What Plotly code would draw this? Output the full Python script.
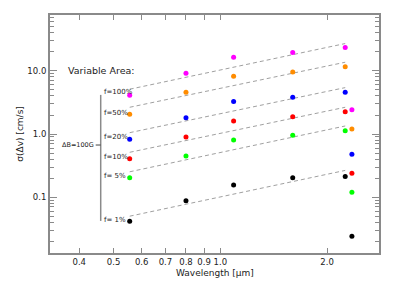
import plotly.graph_objects as go

# ---- data ----
wl_main = [0.555, 0.80, 1.09, 1.60, 2.25]
wl_extra = 2.35
fill_labels = ["f=100%", "f=50%", "f=20%", "f=10%", "f= 5%", "f= 1%"]
colors = ["#FF00FF", "#FF8C00", "#0000FF", "#FF0000", "#00FF00", "#000000"]

sig_100 = [4.11, 9.19, 16.5, 19.5, 23.4]
sig_50 = [2.05, 4.59, 8.24, 9.64, 11.6]
sig_20 = [0.824, 1.81, 3.26, 3.82, 4.59]
sig_10 = [0.406, 0.896, 1.61, 1.88, 2.26]
sig_5 = [0.203, 0.447, 0.803, 0.953, 1.13]
sig_1 = [0.0416, 0.0873, 0.155, 0.203, 0.213]
sig_extra = [2.43, 1.20, 0.476, 0.238, 0.120, 0.024]

line_wl = [0.555, 2.25]
line_100 = [5.12, 27.1]
line_50 = [2.65, 13.7]
line_20 = [1.05, 5.43]
line_10 = [0.513, 2.65]
line_5 = [0.252, 1.34]
line_1 = [0.0499, 0.265]

x_ticks = [0.4, 0.5, 0.6, 0.7, 0.8, 0.9, 1.0, 2.0]
x_ticktext = ["0.4", "0.5", "0.6", "0.7", "0.8", "0.9", "1.0", "2.0"]
y_ticks = [0.1, 1.0, 10.0]
y_ticktext = ["0.1", "1.0", "10.0"]

series = [sig_100, sig_50, sig_20, sig_10, sig_5, sig_1]
lines = [line_100, line_50, line_20, line_10, line_5, line_1]

FONT = "DejaVu Sans"
GRAY = "#8a8a8a"
TXT = "#222"

fig = go.Figure()
for ln in lines:
    fig.add_trace(go.Scatter(x=line_wl, y=ln, mode="lines",
                             line=dict(color="#a0a0a0", width=1, dash="4px,3px"),
                             showlegend=False, hoverinfo="skip"))
for s, c, e in zip(series, colors, sig_extra):
    fig.add_trace(go.Scatter(x=wl_main + [wl_extra], y=s + [e], mode="markers",
                             marker=dict(color=c, size=5, line=dict(width=0)),
                             showlegend=False))

L, R, T, B = 50.3, 379.3, 15.3, 252.7
W, H = 395, 285

def px(x):
    return (x - L) / (R - L)

def py(y):
    return (B - y) / (B - T)

ann = []
ann.append(dict(xref="paper", yref="paper", x=px(66.0), y=py(71), text="Variable Area:", showarrow=False,
                xanchor="left", yanchor="middle", font=dict(size=9.5, family=FONT, color=TXT)))
for lab, yy in zip(fill_labels, [92.3, 113, 137, 156.7, 175.7, 219.3]):
    ann.append(dict(xref="paper", yref="paper", x=px(102.5), y=py(yy), text=lab, showarrow=False,
                    xanchor="left", yanchor="middle", font=dict(size=7, family=FONT, color=TXT)))
ann.append(dict(xref="paper", yref="paper", x=px(96.5), y=py(145), text="ΔB=100G", showarrow=False,
                xanchor="right", yanchor="middle", font=dict(size=6.5, family=FONT, color=TXT)))
# axis titles placed explicitly
ann.append(dict(xref="paper", yref="paper", x=px(214.8), y=py(273), text="Wavelength [μm]", showarrow=False,
                xanchor="center", yanchor="middle", font=dict(size=9, family=FONT, color=TXT)))
ann.append(dict(xref="paper", yref="paper", x=px(20), y=py(134), text="σ(Δv) [cm/s]", showarrow=False,
                textangle=-90, xanchor="center", yanchor="middle", font=dict(size=9, family=FONT, color=TXT)))

shapes = [
    dict(type="line", xref="paper", yref="paper", x0=px(101), x1=px(101), y0=py(95), y1=py(220.7),
         line=dict(color=GRAY, width=1.5)),
    dict(type="line", xref="paper", yref="paper", x0=px(96), x1=px(101), y0=py(145), y1=py(145),
         line=dict(color="#444", width=1)),
]

fig.update_layout(
    width=W, height=H,
    margin=dict(l=L, r=W - R, t=T, b=H - B),
    paper_bgcolor="white", plot_bgcolor="white",
    font=dict(family=FONT, size=9, color=TXT),
    annotations=ann, shapes=shapes,
)
fig.update_xaxes(type="log", range=[-0.4805, 0.4475], automargin=False,
                 tickvals=x_ticks, ticktext=x_ticktext, tickangle=0,
                 ticks="inside", ticklen=5, tickcolor=GRAY, tickwidth=1,
                 showline=True, linecolor=GRAY, linewidth=2, mirror="allticks",
                 showgrid=False, zeroline=False,
                 tickfont=dict(size=8.5, family=FONT, color=TXT))
fig.update_yaxes(type="log", range=[-1.885, 1.885], automargin=False,
                 tickvals=y_ticks, ticktext=y_ticktext,
                 ticks="inside", ticklen=7, tickcolor=GRAY, tickwidth=1,
                 minor=dict(ticks="inside", ticklen=4, tickcolor=GRAY, dtick="D1", showgrid=False),
                 showline=True, linecolor=GRAY, linewidth=2, mirror="allticks",
                 showgrid=False, zeroline=False,
                 tickfont=dict(size=8.5, family=FONT, color=TXT))

fig.write_html("out.html", config={"displayModeBar": False},
               post_script="document.body.style.margin='0';document.body.style.overflow='hidden';")
